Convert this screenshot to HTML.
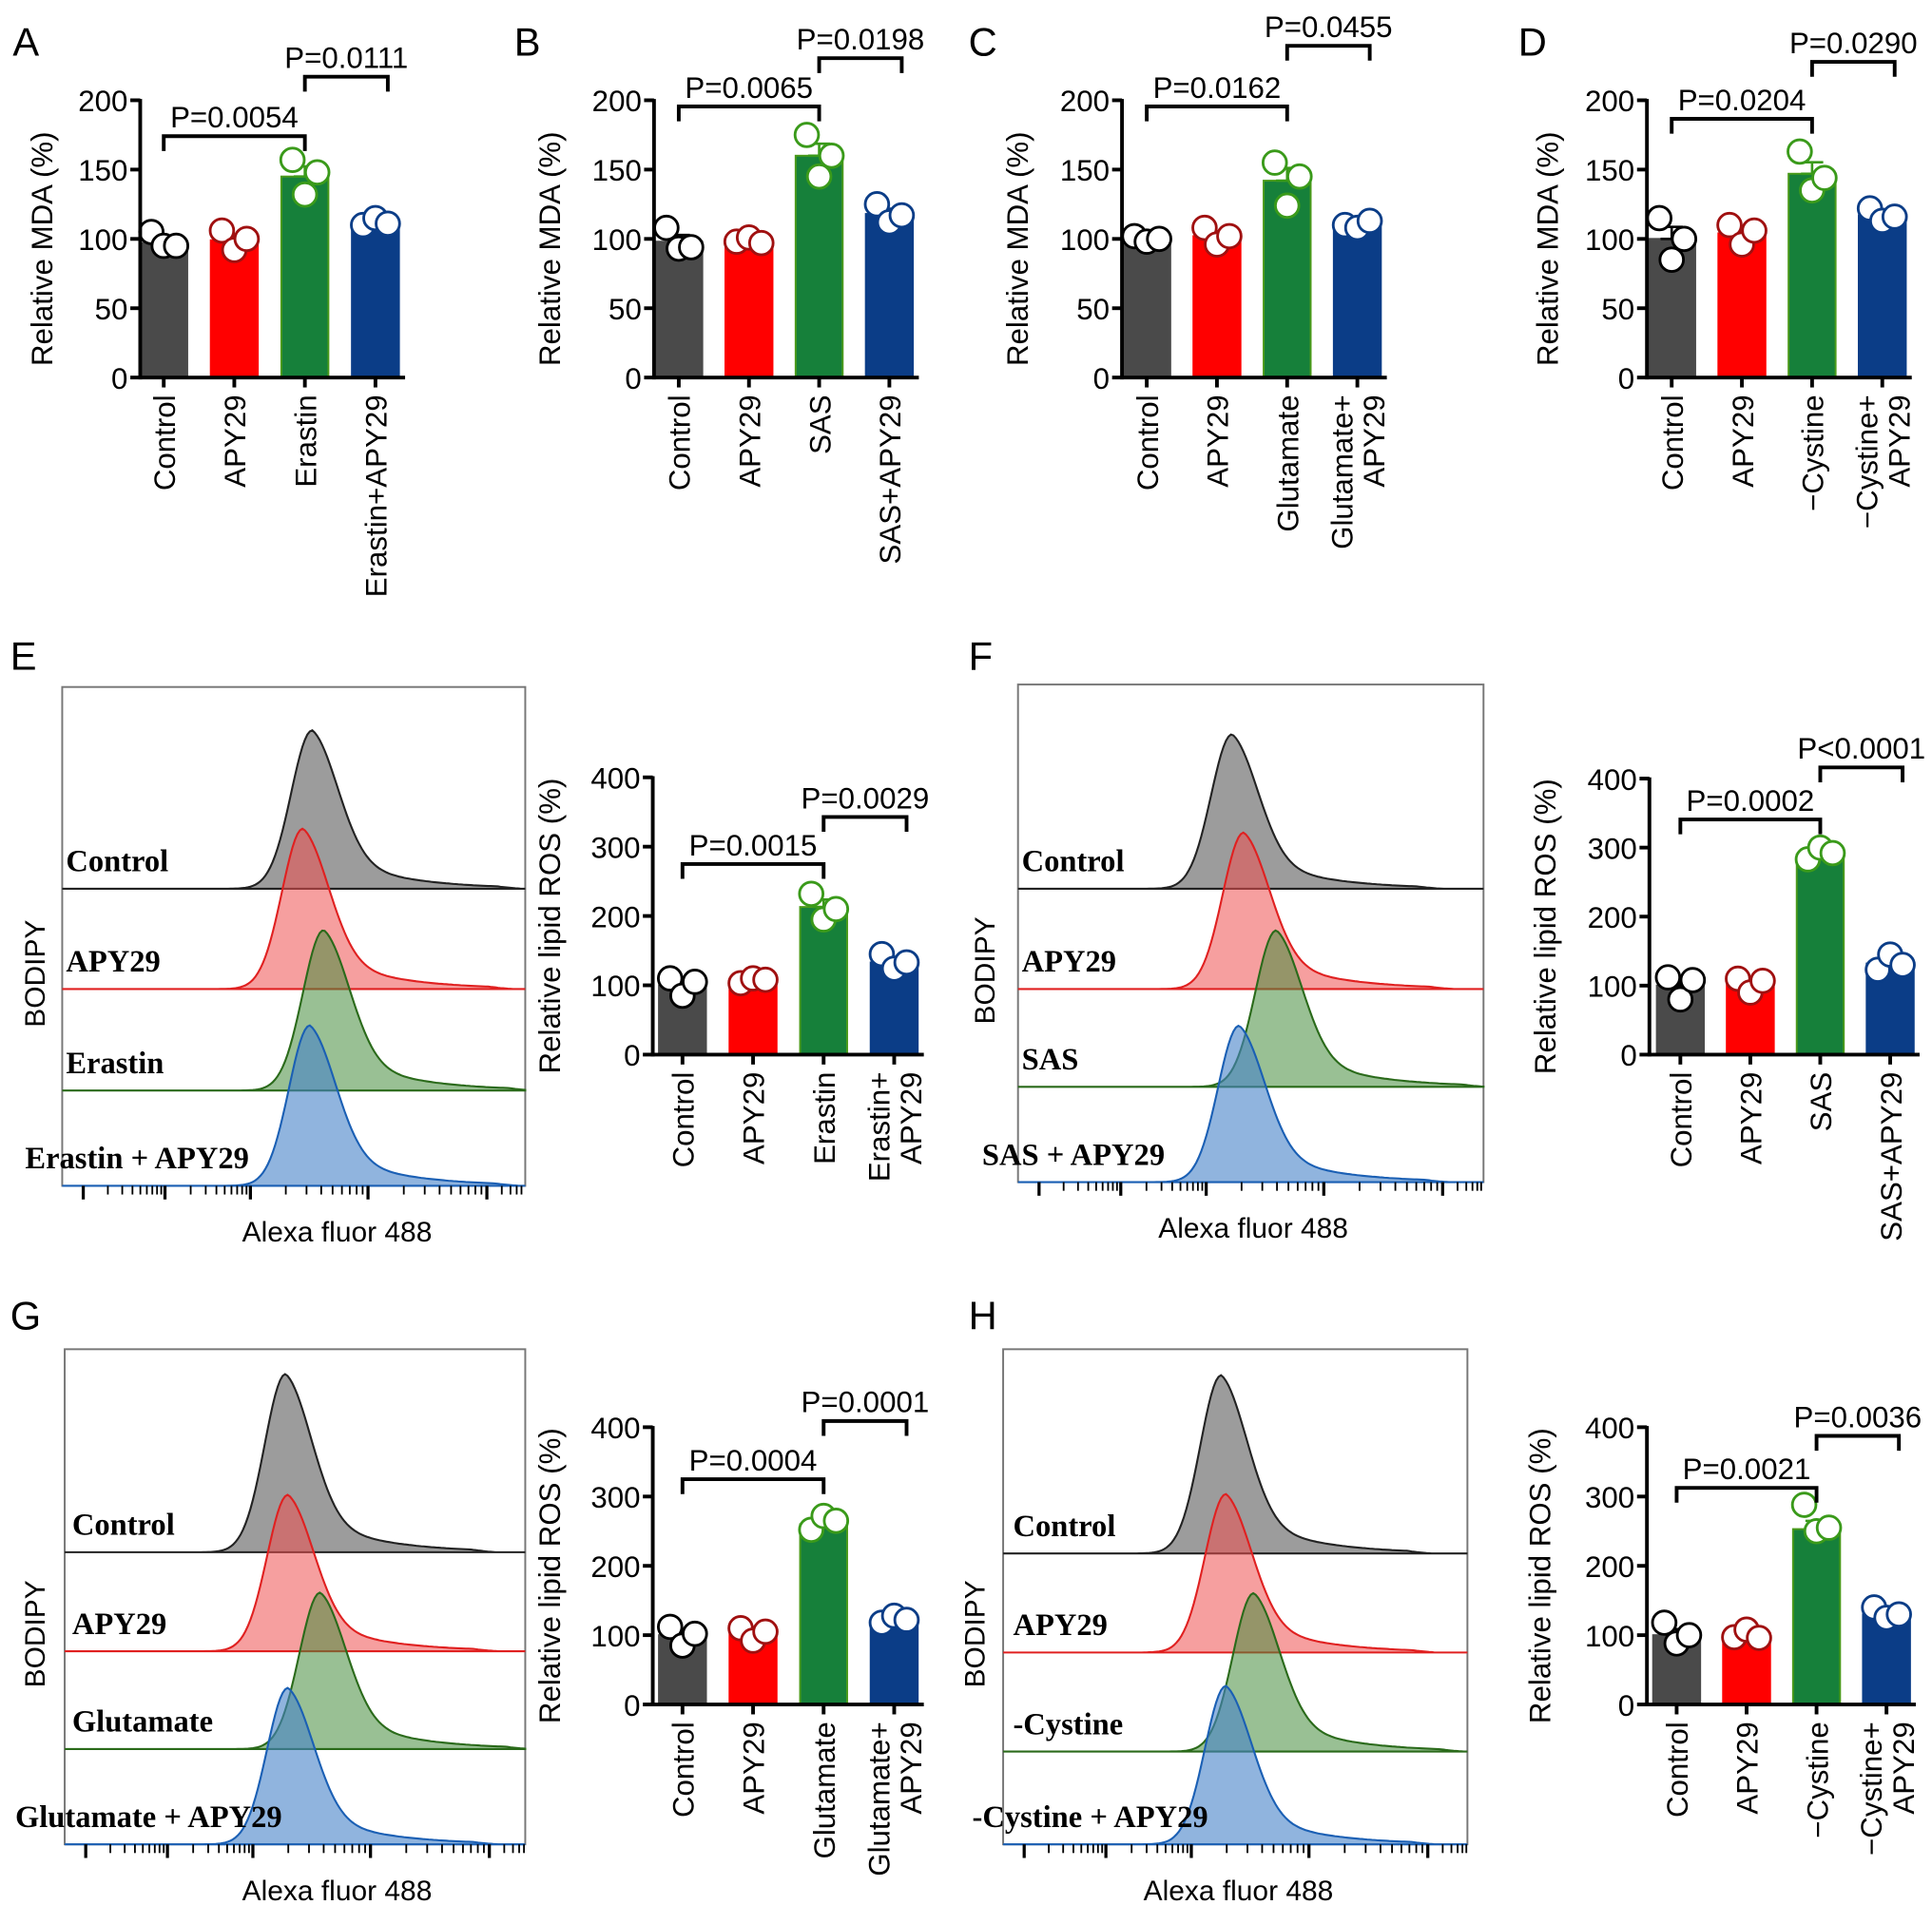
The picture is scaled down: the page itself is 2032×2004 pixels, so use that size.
<!DOCTYPE html>
<html><head><meta charset="utf-8"><style>
html,body{margin:0;padding:0;background:#fff}
svg{display:block}
text{font-family:"Liberation Sans",Arial,sans-serif}
.tm{font-family:"Liberation Serif","Times New Roman",serif;font-weight:bold}
</style></head><body>
<svg id="fig" xmlns="http://www.w3.org/2000/svg" width="2032" height="2004" viewBox="0 0 1560 1539">
<rect width="1560" height="1539" fill="#fff"/>
</svg>
<script>
// ---- data arrays ----
const catsA=["Control","APY29","Erastin","Erastin+APY29"];
const valsA=[97,99,145,112];
const ptsA=[[105,95,95],[106,92,100],[157,132,148],[110,115,111]];
const catsB=["Control","APY29","SAS","SAS+APY29"];
const valsB=[98,98,160,118];
const ptsB=[[108,93,94],[98,101,97],[175,145,160],[125,112,117]];
const catsC=["Control","APY29","Glutamate","Glutamate+|APY29"];
const valsC=[100,102,142,110];
const ptsC=[[102,98,100],[108,96,102],[155,124,145],[110,108,113]];
const catsD=["Control","APY29","\u2212Cystine","\u2212Cystine+|APY29"];
const valsD=[100,104,147,117];
const ptsD=[[115,85,100],[110,96,106],[163,135,144],[122,113,116]];
const catsE=["Control","APY29","Erastin","Erastin+|APY29"];
const valsE=[100,107,213,133];
const ptsE=[[110,85,105],[103,110,108],[232,195,210],[145,124,133]];
const catsF=["Control","APY29","SAS","SAS+APY29"];
const valsF=[100,103,290,132];
const ptsF=[[112,80,108],[110,90,107],[283,300,292],[123,145,130]];
const catsG=["Control","APY29","Glutamate","Glutamate+|APY29"];
const valsG=[100,103,260,120];
const ptsG=[[112,85,102],[110,92,105],[252,272,265],[118,128,122]];
const catsH=["Control","APY29","\u2212Cystine","\u2212Cystine+|APY29"];
const valsH=[100,103,253,130];
const ptsH=[[118,88,100],[97,108,96],[288,250,255],[140,125,130]];
const pA=[["P=0.0054",0,2],["P=0.0111",2,3]];
const pB=[["P=0.0065",0,2],["P=0.0198",2,3]];
const pC=[["P=0.0162",0,2],["P=0.0455",2,3]];
const pD=[["P=0.0204",0,2],["P=0.0290",2,3]];
const pE=[["P=0.0015",0,2],["P=0.0029",2,3]];
const pF=[["P=0.0002",0,2],["P<0.0001",2,3]];
const pG=[["P=0.0004",0,2],["P=0.0001",2,3]];
const pH=[["P=0.0021",0,2],["P=0.0036",2,3]];
const mdaTicks=[0,50,100,150,200];
const rosTicks=[0,100,200,300,400];
// histogram data: peak channel position (0..1 of box width) and relative peak height
const histLabelsE=["Control","APY29","Erastin","Erastin + APY29"];
const histPeakE=[0.54,0.52,0.565,0.535];
const histHeightE=[0.8,1.0,1.0,1.0];
const histLabelsF=["Control","APY29","SAS","SAS + APY29"];
const histPeakF=[0.46,0.485,0.555,0.475];
const histHeightF=[0.78,1.0,1.0,1.0];
const histLabelsG=["Control","APY29","Glutamate","Glutamate + APY29"];
const histPeakG=[0.48,0.485,0.555,0.485];
const histHeightG=[0.9,1.0,1.0,1.0];
const histLabelsH=["Control","APY29","-Cystine","-Cystine + APY29"];
const histPeakH=[0.47,0.48,0.54,0.48];
const histHeightH=[0.9,1.0,1.0,1.0];

const NS="http://www.w3.org/2000/svg";
const svg=document.getElementById('fig');
function el(tag,attrs,parent,txt){const e=document.createElementNS(NS,tag);for(const k in attrs)e.setAttribute(k,attrs[k]);if(txt!==undefined)e.textContent=txt;(parent||svg).appendChild(e);return e;}

const barFill=["#4a4a4a","#ff0000","#16803a","#0b3d87"];
const barEdge=["#4a4a4a","#ff0000","#4a9a1a","#0b3d87"];
const ptStroke=["#000","#a01010","#3a9a1a","#0b3d87"];

function barChart(name,cfg,cats,vals,pts,ticks,pv){
  const g=el('g',{},svg);
  
  
  const ymax=ticks[ticks.length-1];
  const Y=v=>cfg.y0-(v/ymax)*(cfg.y0-cfg.yTop);
  const X=i=>cfg.x0+cfg.first+i*cfg.step;
  const bw=38;
  vals.forEach((v,i)=>{
    const r=el('rect',{x:X(i)-bw/2,y:Y(v),width:bw,height:cfg.y0-Y(v),fill:barFill[i],stroke:barEdge[i],'stroke-width':1.5},g);
    
    
  });
  pts.forEach((p,i)=>{
    const m=vals[i];const mean=p.reduce((a,b)=>a+b,0)/p.length;
    const sd=Math.sqrt(p.reduce((a,b)=>a+(b-mean)*(b-mean),0)/(p.length-1));const se=sd/Math.sqrt(p.length);
    const c=i==0?"#000":ptStroke[i];
    el('line',{x1:X(i),x2:X(i),y1:Y(m),y2:Y(m+se),stroke:c,'stroke-width':2},g);
    el('line',{x1:X(i)-9,x2:X(i)+9,y1:Y(m+se),y2:Y(m+se),stroke:c,'stroke-width':2},g);
    el('line',{x1:X(i)-9,x2:X(i)+9,y1:Y(m),y2:Y(m),stroke:c,'stroke-width':2},g);
  });
  pts.forEach((p,i)=>{
    const offs=[-10,0,10];
    p.forEach((v,j)=>{
      const c=el('circle',{cx:X(i)+offs[j],cy:Y(v),r:9.5,fill:"#fff",stroke:ptStroke[i],'stroke-width':2.2},g);
      
      
    });
  });
  el('line',{x1:cfg.x0,x2:cfg.x0,y1:cfg.yTop-1,y2:cfg.y0+1.5,stroke:"#000",'stroke-width':3},g);
  el('line',{x1:cfg.x0,x2:X(3)+cfg.step*0.42,y1:cfg.y0,y2:cfg.y0,stroke:"#000",'stroke-width':3},g);
  ticks.forEach(t=>{
    el('line',{x1:cfg.x0-8,x2:cfg.x0,y1:Y(t),y2:Y(t),stroke:"#000",'stroke-width':3},g);
    const tl=el('text',{x:cfg.x0-10,y:Y(t)+9,'font-size':24,'text-anchor':'end'},g,String(t));
    
    
  });
  cats.forEach((c,i)=>{
    el('line',{x1:X(i),x2:X(i),y1:cfg.y0,y2:cfg.y0+8,stroke:"#000",'stroke-width':3},g);
    const lines=c.split('|');
    lines.forEach((ln,k)=>{
      const dx=lines.length==1?9:(k==0?-4:22);
      const tx=X(i)+dx, ty=cfg.y0+14;
      const t=el('text',{x:tx,y:ty,'font-size':24,'text-anchor':'end',transform:`rotate(-90 ${tx} ${ty})`},g,ln);
      
      
    });
  });
  const yt=el('text',{x:cfg.titleX,y:(cfg.y0+cfg.yTop)/2+8,'font-size':24,'text-anchor':'middle',transform:`rotate(-90 ${cfg.titleX} ${(cfg.y0+cfg.yTop)/2+8})`},g,cfg.title);
  
  
  pv.forEach((p,k)=>{
    const by=cfg.br[k];const x1=X(p[1]),x2=X(p[2])+(k==1?10:0);
    el('path',{d:`M${x1} ${by+12}V${by}H${x2}V${by+12}`,fill:"none",stroke:"#000",'stroke-width':3},g);
    const t=el('text',{x:(x1+x2)/2,y:by-7,'font-size':24,'text-anchor':'middle'},g,p[0]);
    
    
  });
}

barChart('chart-a-mda-erastin',{x0:113,first:19,step:57,y0:305,yTop:81,titleX:42,title:"Relative MDA (%)",br:[110,62]},catsA,valsA,ptsA,mdaTicks,pA);
barChart('chart-b-mda-sas',{x0:528,first:20,step:56.7,y0:305,yTop:81,titleX:452,title:"Relative MDA (%)",br:[86,47]},catsB,valsB,ptsB,mdaTicks,pB);
barChart('chart-c-mda-glutamate',{x0:906,first:20,step:56.7,y0:305,yTop:81,titleX:830,title:"Relative MDA (%)",br:[86,37]},catsC,valsC,ptsC,mdaTicks,pC);
barChart('chart-d-mda-cystine',{x0:1330,first:20,step:56.7,y0:305,yTop:81,titleX:1258,title:"Relative MDA (%)",br:[96,50]},catsD,valsD,ptsD,mdaTicks,pD);
barChart('chart-e-lipid-ros',{x0:527,first:24,step:57,y0:852,yTop:628,titleX:452,title:"Relative lipid ROS (%)",br:[698,660]},catsE,valsE,ptsE,rosTicks,pE);
barChart('chart-f-lipid-ros',{x0:1332,first:25,step:56.5,y0:852,yTop:629,titleX:1256,title:"Relative lipid ROS (%)",br:[662,620]},catsF,valsF,ptsF,rosTicks,pF);
barChart('chart-g-lipid-ros',{x0:527,first:24,step:57,y0:1377,yTop:1153,titleX:452,title:"Relative lipid ROS (%)",br:[1195,1148]},catsG,valsG,ptsG,rosTicks,pG);
barChart('chart-h-lipid-ros',{x0:1330,first:24,step:56.5,y0:1377,yTop:1153,titleX:1252,title:"Relative lipid ROS (%)",br:[1202,1160]},catsH,valsH,ptsH,rosTicks,pH);

const hFill=["rgba(90,90,90,0.6)","rgba(238,80,80,0.55)","rgba(70,140,60,0.55)","rgba(70,130,200,0.6)"];
const hStroke=["#222","#e02020","#2a6a1a","#1a5fb4"];
function hist(name,box,baselines,labels,peaks,heights,labX,lastLabX,alexaX,bodX){
  const g=el('g',{},svg);
  
  
  el('rect',{x:box.x,y:box.y,width:box.w,height:box.h,fill:"#fff",stroke:"#777",'stroke-width':1.5},g);
  const laneH=Math.min(baselines[1]-baselines[0],baselines[2]-baselines[1]);
  peaks.forEach((pk,i)=>{
    const base=baselines[i];const amp=heights[i]*(i==0?160:laneH*1.6);
    const px=box.x+pk*box.w;
    let d=`M${box.x} ${base}`;
    for(let x=box.x;x<=box.x+box.w;x+=2){
      const dd=x-px;let s;
      if(dd<0)s=Math.exp(-Math.pow(dd/24,2));
      else {s=0.7*Math.exp(-Math.pow(dd/30,2))+0.3*Math.exp(-dd/50); if(dd>150)s*=Math.max(0,1-(dd-150)/20);}
      d+=`L${x} ${(base-amp*s).toFixed(1)}`;
    }
    d+=`L${box.x+box.w} ${base}Z`;
    const p=el('path',{d:d,fill:hFill[i],stroke:hStroke[i],'stroke-width':1.6},g);
    
    
    const lx=i==3?lastLabX:labX;
    const t=el('text',{x:lx,y:base-14,'font-size':25,'class':'tm'},g,labels[i]);
    
    
  });
  const by=box.y+box.h;
  const starts=[box.x+17,box.x+83,box.x+152,box.x+247,box.x+343];
  const dw=[66,69,95,96,40];
  starts.forEach((s,k)=>{
    for(let m=1;m<=9;m++){
      const x=s+Math.log10(m)*dw[k];
      if(x>box.x+box.w)continue;
      el('line',{x1:x,x2:x,y1:by,y2:by+(m==1?11:7),stroke:"#000",'stroke-width':m==1?2.5:1.4},g);
    }
  });
  const a=el('text',{x:alexaX,y:by+45,'font-size':23,'text-anchor':'middle'},g,"Alexa fluor 488");
  
  
  const cy=box.y+box.h/2+30;
  const b=el('text',{x:bodX,y:cy,'font-size':23,'text-anchor':'middle',transform:`rotate(-90 ${bodX} ${cy})`},g,"BODIPY");
  
  
}
hist('histogram-e',{x:50,y:555,w:374,h:403},[718,799,881,958],histLabelsE,histPeakE,histHeightE,53,20,272,36);
hist('histogram-f',{x:822,y:553,w:376,h:402},[718,799,878,955],histLabelsF,histPeakF,histHeightF,825,793,1012,803);
hist('histogram-g',{x:52,y:1090,w:372,h:400},[1254,1334,1413,1490],histLabelsG,histPeakG,histHeightG,58,12,272,36);
hist('histogram-h',{x:810,y:1090,w:375,h:400},[1255,1335,1415,1490],histLabelsH,histPeakH,histHeightH,818,785,1000,795);

const letters=[["A",10,45],["B",415,45],["C",782,45],["D",1226,45],["E",8,541],["F",782,541],["G",8,1074],["H",782,1074]];
letters.forEach(l=>{
  const t=el('text',{x:l[1],y:l[2],'font-size':32},svg,l[0]);
  
  
});
</script>
</body></html>
